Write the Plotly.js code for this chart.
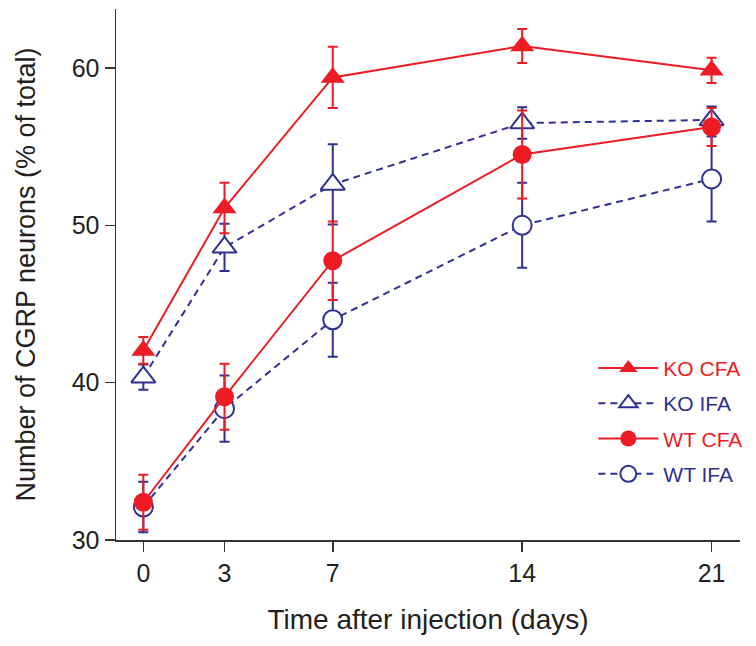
<!DOCTYPE html>
<html>
<head>
<meta charset="utf-8">
<script src="https://cdn.plot.ly/plotly-3.0.1.min.js"></script>
<style>html,body{margin:0;padding:0;background:#fff;}#chart{width:756px;height:646px;}</style>
</head>
<body>
<div id="chart"></div>
<script>
// Days after injection
const days = [0, 3, 7, 14, 21];
const tickLabels = ["0", "3", "7", "14", "21"];

// Series means (% of total) and error (±)
const koCfa = [42.05, 51.1, 59.4, 61.4, 59.85];
const koCfaErr = [0.85, 1.6, 1.95, 1.08, 0.8];

const koIfa = [40.35, 48.6, 52.6, 56.5, 56.7];
const koIfaErr = [0.8, 1.5, 2.55, 1.0, 0.85];

const wtCfa = [32.4, 39.1, 47.75, 54.5, 56.25];
const wtCfaErr = [1.75, 2.1, 2.5, 2.8, 1.2];

const wtIfa = [32.1, 38.35, 44.0, 50.0, 52.95];
const wtIfaErr = [1.6, 2.1, 2.35, 2.7, 2.7];

const RED = "#ED1C24";
const BLUE = "#2E3192";
const FONT = "Liberation Sans, Arial, sans-serif";

function trace(name, y, err, color, symbol, open, dash, rank) {
  return {
    x: days, y: y, type: "scatter", mode: "lines+markers",
    name: '<span style="color:' + color + '">' + name + '</span>',
    legendgroup: name, legendrank: rank, cliponaxis: false,
    line: {color: color, width: 2, dash: dash},
    marker: {symbol: symbol, size: symbol === "triangle-up" ? 21 : 19,
             color: open ? "#ffffff" : color,
             line: {color: color, width: open ? 2 : 0}},
    error_y: {type: "data", array: err, visible: true, color: color, thickness: 2, width: 5}
  };
}

const data = [
  trace("KO IFA", koIfa, koIfaErr, BLUE, "triangle-up", true, "7px,5px", 2),
  trace("WT IFA", wtIfa, wtIfaErr, BLUE, "circle", true, "7px,5px", 4),
  trace("KO CFA", koCfa, koCfaErr, RED, "triangle-up", false, "solid", 1),
  trace("WT CFA", wtCfa, wtCfaErr, RED, "circle", false, "solid", 3)
];

const layout = {
  width: 756, height: 646,
  margin: {l: 116, r: 13, t: 9, b: 106},
  paper_bgcolor: "#fff", plot_bgcolor: "#fff",
  font: {family: FONT, color: "#231F20", size: 24},
  showlegend: true,
  legend: {
    x: 0.765, y: 0.362, xanchor: "left", yanchor: "top",
    traceorder: "grouped", tracegroupgap: 5, itemwidth: 60,
    bgcolor: "rgba(0,0,0,0)",
    font: {family: FONT, size: 21}
  },
  xaxis: {
    range: [-1.01, 22.05], tickvals: days, ticktext: tickLabels,
    showgrid: false, zeroline: false, showline: true,
    linecolor: "#333", linewidth: 1.5,
    ticks: "outside", ticklen: 10, tickwidth: 1.5, tickcolor: "#333",
    tickfont: {size: 25, color: "#231F20"},
    title: {text: "Time after injection (days)", font: {size: 28, color: "#231F20"}, standoff: 24}
  },
  yaxis: {
    range: [30, 63.75], tickvals: [30, 40, 50, 60],
    showgrid: false, zeroline: false, showline: true,
    linecolor: "#333", linewidth: 1.5,
    ticks: "outside", ticklen: 10, tickwidth: 1.5, tickcolor: "#333",
    tickfont: {size: 25, color: "#231F20"},
    title: {text: "Number of CGRP neurons (% of total)", font: {size: 27, color: "#231F20"}, standoff: 28}
  }
};

Plotly.newPlot("chart", data, layout, {displayModeBar: false, staticPlot: true});
</script>
</body>
</html>
